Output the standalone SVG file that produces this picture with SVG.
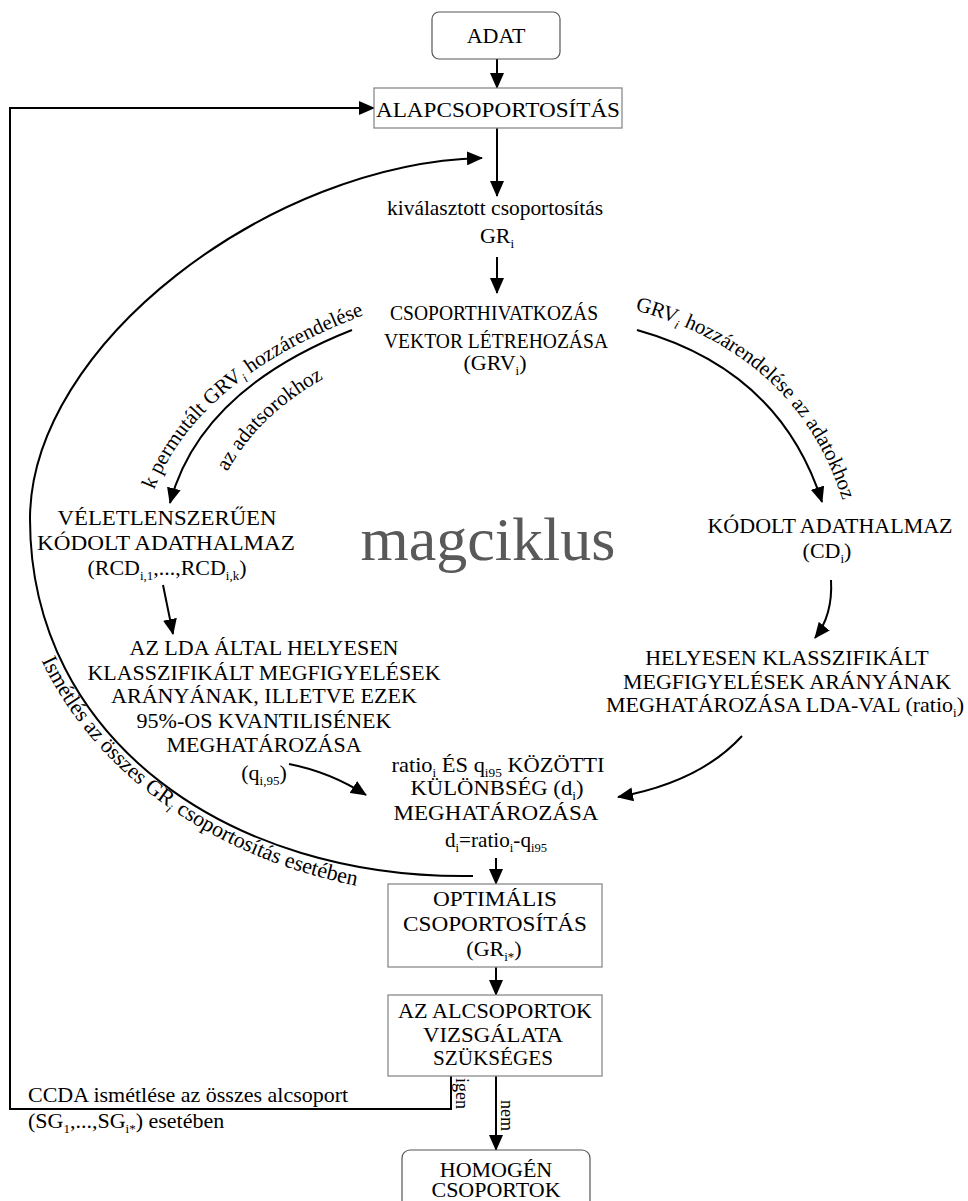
<svg xmlns="http://www.w3.org/2000/svg" width="968" height="1201" viewBox="0 0 968 1201">
<style>
.t{font-family:"Liberation Serif","Times New Roman",serif;font-size:22px;fill:#000}
.c{text-anchor:middle}
.s{font-size:13px}
.lb{font-family:"Liberation Serif","Times New Roman",serif;font-size:21px;fill:#000}
.sm{font-family:"Liberation Serif","Times New Roman",serif;font-size:18px;fill:#000}
.big{font-family:"Liberation Serif","Times New Roman",serif;font-size:62px;fill:#595959;text-anchor:middle}
.ln{fill:none;stroke:#000;stroke-width:2}
.box{fill:#fff;stroke:#8a8a8a;stroke-width:1.3}
.rbox{fill:#fff;stroke:#555;stroke-width:1.2}
</style>
<defs>
<marker id="ah" viewBox="0 0 16 14" refX="15" refY="7" markerWidth="16" markerHeight="14" markerUnits="userSpaceOnUse" orient="auto">
<path d="M0,0 L16,7 L0,14 z" fill="#000"/>
</marker>
<path id="p1" d="M 10 519 C 10 744, 228 900, 473 896"/>
<path id="p2" d="M 145 518 Q 180 376 392 305"/>
<path id="p3" d="M 214 503 Q 244 413 354 363"/>
<path id="p4" d="M 627 308 Q 799 351 845 508"/>
</defs>

<g id="connectors">
<path class="ln" d="M 497 59 L 497 88" marker-end="url(#ah)"/>
<path class="ln" d="M 497 128 L 497 196" marker-end="url(#ah)"/>
<path class="ln" d="M 497 257 L 497 293" marker-end="url(#ah)"/>
<path class="ln" d="M 352 330 Q 200 390 170 503" marker-end="url(#ah)"/>
<path class="ln" d="M 637 330 Q 780 370 822 502" marker-end="url(#ah)"/>
<path class="ln" d="M 163 585 Q 168 610 173 634" marker-end="url(#ah)"/>
<path class="ln" d="M 289 764 Q 330 772 366 795" marker-end="url(#ah)"/>
<path class="ln" d="M 831 580 Q 833 615 815 638" marker-end="url(#ah)"/>
<path class="ln" d="M 742 736 Q 700 782 618 797" marker-end="url(#ah)"/>
<path class="ln" d="M 496 858 L 496 884" marker-end="url(#ah)"/>
<path class="ln" d="M 496 967 L 496 995" marker-end="url(#ah)"/>
<path class="ln" d="M 496 1076 L 496 1150" marker-end="url(#ah)"/>
<path class="ln" d="M 451 1076 L 451 1109 L 10 1109 L 10 108 L 374 108" stroke-width="2.5" marker-end="url(#ah)"/>
<path class="ln" d="M 473 876 C 230 880, 30 740, 30 519 C 30 345, 270 163, 482 158" marker-end="url(#ah)"/>
</g>

<g id="labels">
<text class="t"><textPath href="#p1" startOffset="146">Ismétlés az összes  GR<tspan class="s" dy="5" font-style="italic">i</tspan><tspan dy="-5"> csoportosítás esetében</tspan></textPath></text>
<text class="lb"><textPath href="#p2" startOffset="50%" text-anchor="middle">k permutált GRV<tspan class="s" dy="5" font-style="italic">i</tspan><tspan dy="-5"> hozzárendelése</tspan></textPath></text>
<text class="lb"><textPath href="#p3" startOffset="50%" text-anchor="middle">az adatsorokhoz</textPath></text>
<text class="lb"><textPath href="#p4" startOffset="50%" text-anchor="middle">GRV<tspan class="s" dy="5" font-style="italic">i</tspan><tspan dy="-5">  hozzárendelése az adatokhoz</tspan></textPath></text>
<text class="sm" x="456" y="1078" transform="rotate(90 456 1078)">igen</text>
<text class="sm" x="501" y="1100" transform="rotate(90 501 1100)">nem</text>
<text class="t" x="28" y="1102">CCDA ismétlése az összes alcsoport</text>
<text class="t" x="28" y="1128">(SG<tspan class="s" dy="5">1</tspan><tspan dy="-5">,...,SG</tspan><tspan class="s" dy="5">i*</tspan><tspan dy="-5">) esetében</tspan></text>
<text class="big" x="488" y="560">magciklus</text>
</g>

<g id="n-adat">
<rect class="rbox" x="432" y="12" width="128" height="47" rx="7"/>
<text class="t c" x="496" y="43">ADAT</text>
</g>

<g id="n-alap">
<rect class="box" x="374" y="88" width="248" height="40"/>
<text class="t c" x="498" y="117" textLength="244" lengthAdjust="spacingAndGlyphs">ALAPCSOPORTOSÍTÁS</text>
</g>

<g id="n-kival">
<text class="t c" x="495" y="215" textLength="216" lengthAdjust="spacingAndGlyphs">kiválasztott csoportosítás</text>
<text class="t c" x="497" y="243">GR<tspan class="s" dy="5">i</tspan></text>
</g>

<g id="n-grv">
<text class="t c" x="494" y="320" textLength="208" lengthAdjust="spacingAndGlyphs">CSOPORTHIVATKOZÁS</text>
<text class="t c" x="496" y="348" textLength="224" lengthAdjust="spacingAndGlyphs">VEKTOR LÉTREHOZÁSA</text>
<text class="t c" x="495" y="370">(GRV<tspan class="s" dy="5">i</tspan><tspan dy="-5">)</tspan></text>
</g>

<g id="n-rcd">
<text class="t c" x="167" y="525" textLength="219" lengthAdjust="spacingAndGlyphs">VÉLETLENSZERŰEN</text>
<text class="t c" x="166" y="550" textLength="258" lengthAdjust="spacingAndGlyphs">KÓDOLT ADATHALMAZ</text>
<text class="t c" x="167" y="575" textLength="159" lengthAdjust="spacingAndGlyphs">(RCD<tspan class="s" dy="5">i,1</tspan><tspan dy="-5">,...,RCD</tspan><tspan class="s" dy="5">i,k</tspan><tspan dy="-5">)</tspan></text>
</g>

<g id="n-cd">
<text class="t c" x="830" y="533">KÓDOLT ADATHALMAZ</text>
<text class="t c" x="827" y="558">(CD<tspan class="s" dy="5">i</tspan><tspan dy="-5">)</tspan></text>
</g>

<g id="n-lda">
<text class="t c" x="264" y="655" textLength="269" lengthAdjust="spacingAndGlyphs">AZ LDA ÁLTAL HELYESEN</text>
<text class="t c" x="264" y="680" textLength="353" lengthAdjust="spacingAndGlyphs">KLASSZIFIKÁLT MEGFIGYELÉSEK</text>
<text class="t c" x="264" y="703" textLength="306" lengthAdjust="spacingAndGlyphs">ARÁNYÁNAK, ILLETVE EZEK</text>
<text class="t c" x="264" y="728" textLength="255" lengthAdjust="spacingAndGlyphs">95%-OS KVANTILISÉNEK</text>
<text class="t c" x="264" y="752" textLength="195" lengthAdjust="spacingAndGlyphs">MEGHATÁROZÁSA</text>
<text class="t c" x="264" y="780">(q<tspan class="s" dy="5">i,95</tspan><tspan dy="-5">)</tspan></text>
</g>

<g id="n-ratio">
<text class="t c" x="787" y="665">HELYESEN KLASSZIFIKÁLT</text>
<text class="t c" x="787" y="689">MEGFIGYELÉSEK ARÁNYÁNAK</text>
<text class="t c" x="785" y="712">MEGHATÁROZÁSA LDA-VAL (ratio<tspan class="s" dy="5">i</tspan><tspan dy="-5">)</tspan></text>
</g>

<g id="n-diff">
<text class="t c" x="498" y="772" textLength="213" lengthAdjust="spacingAndGlyphs">ratio<tspan class="s" dy="5">i</tspan><tspan dy="-5"> ÉS q</tspan><tspan class="s" dy="5">i95</tspan><tspan dy="-5"> KÖZÖTTI</tspan></text>
<text class="t c" x="497" y="795" textLength="173" lengthAdjust="spacingAndGlyphs">KÜLÖNBSÉG (d<tspan class="s" dy="5">i</tspan><tspan dy="-5">)</tspan></text>
<text class="t c" x="496" y="820" textLength="205" lengthAdjust="spacingAndGlyphs">MEGHATÁROZÁSA</text>
<text class="t c" x="496" y="847" textLength="102" lengthAdjust="spacingAndGlyphs">d<tspan class="s" dy="5">i</tspan><tspan dy="-5">=ratio</tspan><tspan class="s" dy="5">i</tspan><tspan dy="-5">-q</tspan><tspan class="s" dy="5">i95</tspan></text>
</g>

<g id="n-opt">
<rect class="box" x="388" y="884" width="214" height="83"/>
<text class="t c" x="495" y="906" textLength="124" lengthAdjust="spacingAndGlyphs">OPTIMÁLIS</text>
<text class="t c" x="495" y="931" textLength="184" lengthAdjust="spacingAndGlyphs">CSOPORTOSÍTÁS</text>
<text class="t c" x="494" y="956">(GR<tspan class="s" dy="5">i*</tspan><tspan dy="-5">)</tspan></text>
</g>

<g id="n-alcs">
<rect class="box" x="388" y="995" width="214" height="81"/>
<text class="t c" x="495" y="1018" textLength="194" lengthAdjust="spacingAndGlyphs">AZ ALCSOPORTOK</text>
<text class="t c" x="493" y="1042" textLength="140" lengthAdjust="spacingAndGlyphs">VIZSGÁLATA</text>
<text class="t c" x="493" y="1065" textLength="120" lengthAdjust="spacingAndGlyphs">SZÜKSÉGES</text>
</g>

<g id="n-homogen">
<rect class="rbox" x="402" y="1150" width="188" height="62" rx="8"/>
<text class="t c" x="496" y="1177">HOMOGÉN</text>
<text class="t c" x="496" y="1197">CSOPORTOK</text>
</g>
</svg>
